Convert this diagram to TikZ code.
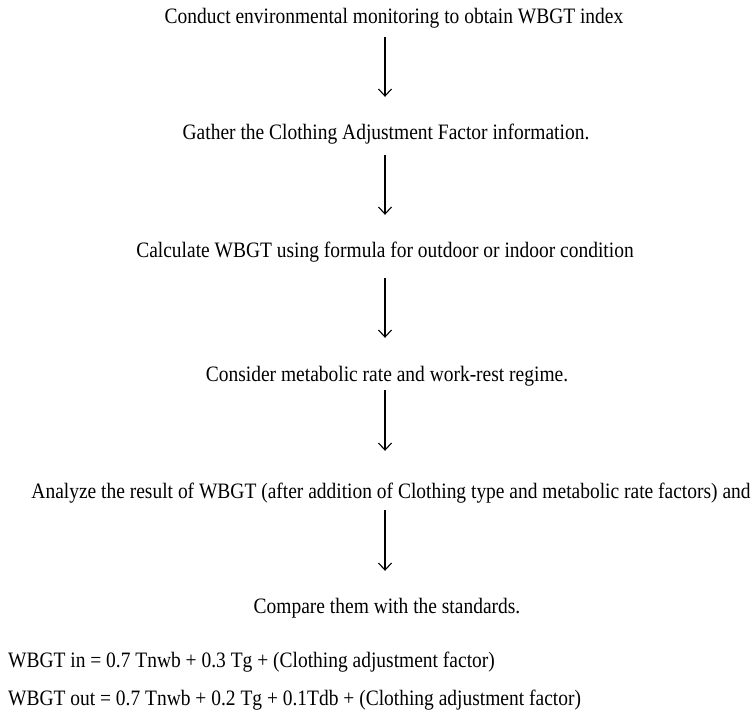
\documentclass[tikz,border=0pt]{standalone}
\usepackage{fontspec}
\setmainfont{Liberation Serif}[FakeStretch=0.885]
\usepackage{tikz}
\usetikzlibrary{arrows.meta}

\begin{document}
\begin{tikzpicture}[x=1pt, y=-1pt,
    every node/.style = {inner sep=0pt, font=\fontsize{22}{24}\selectfont},
    stepline/.style = {anchor=base, text height=14pt, text depth=5pt},
    formula/.style = {anchor=base west},
    flow/.style = {-{Straight Barb[length=7pt,width=13pt]}, line width=1.1pt}]
\useasboundingbox (0,0) rectangle (754,715);
\coordinate (mid) at (385,0);

\node[stepline] (s_1) at (394,23) {Conduct environmental monitoring to obtain WBGT index};
\node[stepline] (s_2) at (386,139) {Gather the Clothing Adjustment Factor information.};
\node[stepline] (s_3) at (385,257) {Calculate WBGT using formula for outdoor or indoor condition};
\node[stepline] (s_4) at (387,381) {Consider metabolic rate and work-rest regime.};
\node[stepline] (s_5) at (391,498) {Analyze the result of WBGT (after addition of Clothing type and metabolic rate factors) and};
\node[stepline] (s_6) at (387,613) {Compare them with the standards.};

\node[formula] (f_in) at (8,667) {WBGT in = 0.7 Tnwb + 0.3 Tg + (Clothing adjustment factor)};
\node[formula] (f_out) at (8,705) {WBGT out = 0.7 Tnwb + 0.2 Tg + 0.1Tdb + (Clothing adjustment factor)};

\path[flow] (s_1.south -| mid) edge [shorten <=9pt, shorten >=28pt] (s_2.north -| mid)
    (s_2.south -| mid) edge [shorten <=11pt, shorten >=28pt] (s_3.north -| mid)
    (s_3.south -| mid) edge [shorten <=16pt, shorten >=29pt] (s_4.north -| mid)
    (s_4.south -| mid) edge [shorten <=4pt, shorten >=33pt] (s_5.north -| mid)
    (s_5.south -| mid) edge [shorten <=7pt, shorten >=28pt] (s_6.north -| mid);
\end{tikzpicture}
\end{document}
